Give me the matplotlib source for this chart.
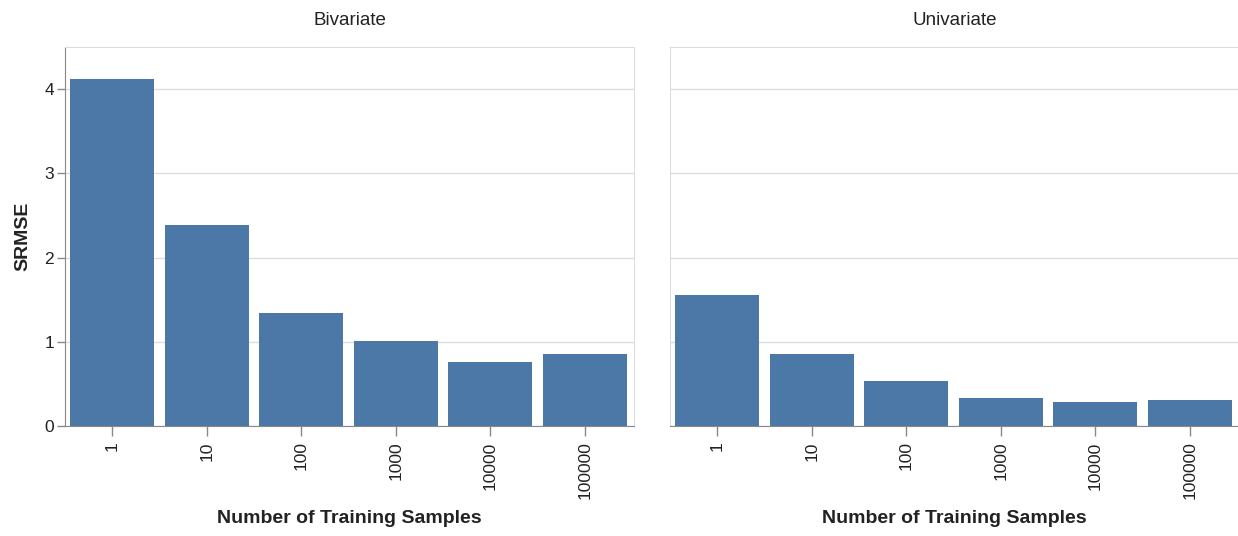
import numpy as np
import matplotlib.pyplot as plt

plt.rcParams['font.family'] = ['Liberation Sans', 'DejaVu Sans']

samples = ['1', '10', '100', '1000', '10000', '100000']
bivariate = [4.12, 2.39, 1.34, 1.01, 0.76, 0.86]
univariate = [1.55, 0.85, 0.54, 0.33, 0.28, 0.31]
panels = ['Bivariate', 'Univariate']

BAR = '#4c78a8'
GRID = '#dddddd'
AXIS = '#888888'

W, H = 1238, 536
fig = plt.figure(figsize=(W / 100, H / 100), dpi=100)

def box(x0, y0, x1, y1):
    # pixel box -> figure fraction
    return [x0 / W, 1 - y1 / H, (x1 - x0) / W, (y1 - y0) / H]

axes = [fig.add_axes(box(65, 47, 634, 426)),
        fig.add_axes(box(670, 47, 1239, 426))]

for i, (ax, vals, name) in enumerate(zip(axes, [bivariate, univariate], panels)):
    x = np.arange(len(samples))
    ax.bar(x, vals, width=0.89, color=BAR, zorder=3)
    ax.set_xlim(-0.5, len(samples) - 0.48)
    ax.set_ylim(0, 4.5)
    ax.set_yticks([0, 1, 2, 3, 4])
    ax.grid(axis='y', color=GRID, linewidth=1, zorder=0)
    ax.set_xticks(x)
    ax.set_xticklabels(samples, rotation=90, fontsize=12.5, color='#222222')
    ax.tick_params(axis='x', length=7, width=1, color=AXIS, pad=4)
    for s in ['top', 'right', 'left']:
        ax.spines[s].set_color(GRID)
    ax.spines['bottom'].set_color(AXIS)
    ax.set_xlabel('Number of Training Samples', fontsize=14, fontweight='bold',
                  color='#222222', labelpad=8)
    ax.set_title(name, fontsize=13.5, color='#222222', pad=16)
    if i == 0:
        ax.spines['left'].set_color(AXIS)
        ax.tick_params(axis='y', length=6, width=1, color=AXIS, labelsize=12.5,
                       labelcolor='#222222', pad=2)
        ax.set_ylabel('SRMSE', fontsize=14, fontweight='bold', color='#222222',
                      labelpad=9)
    else:
        ax.tick_params(axis='y', length=0, labelleft=False)

fig.savefig('out.png', dpi=100)
